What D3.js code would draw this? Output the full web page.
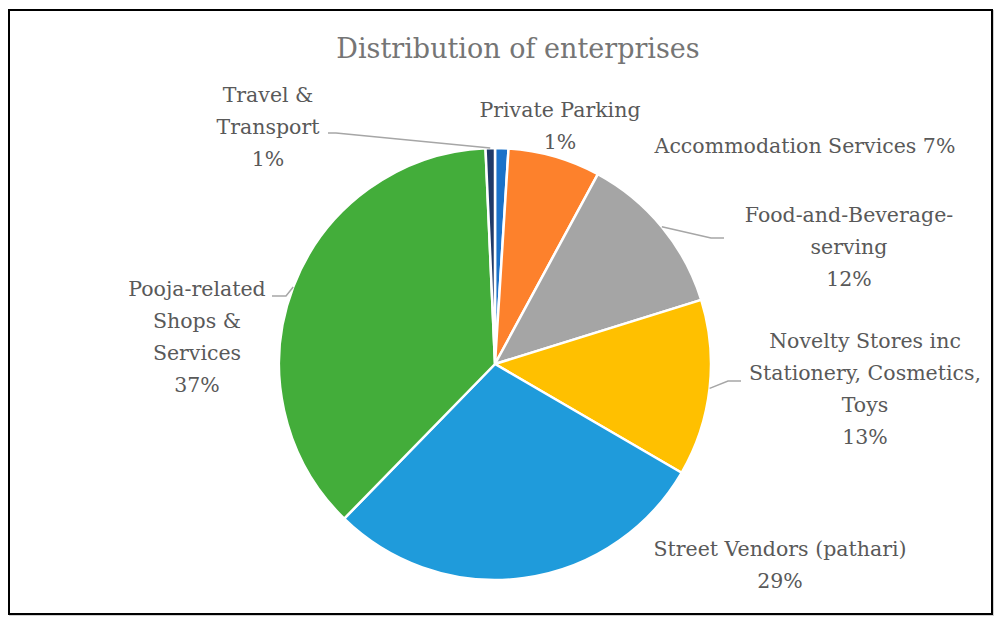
<!DOCTYPE html>
<html>
<head>
<meta charset="utf-8">
<script src="https://cdn.jsdelivr.net/npm/d3@7"></script>
<style>
  body { margin: 0; background: #fff; }
  svg { display: block; }
</style>
</head>
<body>
<svg></svg>
<script>
// data
var categories = [
  "Private Parking",
  "Accommodation Services",
  "Food-and-Beverage-serving",
  "Novelty Stores inc Stationery, Cosmetics, Toys",
  "Street Vendors (pathari)",
  "Pooja-related Shops & Services",
  "Travel & Transport"
];
var shares = [1.0, 6.9, 12.3, 13.2, 28.9, 37.0, 0.7];
var colors = ["#1a72c9", "#fd812c", "#a5a5a5", "#ffc000", "#1f9bdb", "#43ad3a", "#1f3a68"];

// how each label is broken into lines (last line gets the percentage)
var labelLines = [
  ["Private Parking"],
  ["Accommodation Services"],
  ["Food-and-Beverage-", "serving"],
  ["Novelty Stores inc", "Stationery, Cosmetics,", "Toys"],
  ["Street Vendors (pathari)"],
  ["Pooja-related", "Shops &", "Services"],
  ["Travel &", "Transport"]
];
var pctOnSameLine = [false, true, false, false, false, false, false];

// label layout: center x, first baseline y
var labelPos = [
  [560, 117], [805, 153], [849, 222], [865, 348], [780, 556], [197, 296], [268, 102]
];
// leader line bend / end points (null = no leader)
var leaders = [
  null, null,
  [[711, 238], [724, 238]],
  [[728, 381], [741, 381]],
  null,
  [[286, 296], [272, 296]],
  [[336, 133], [328, 133]]
];

var w = 1002, h = 625;
var cx = 495, cy = 364, r = 216;

var svg = d3.select("svg").attr("width", w).attr("height", h);

// frame
svg.append("rect")
  .attr("x", 10).attr("y", 11)
  .attr("width", 983).attr("height", 604)
  .attr("fill", "none").attr("stroke", "#d0d0d0").attr("stroke-width", 2);
svg.append("rect")
  .attr("x", 9).attr("y", 10)
  .attr("width", 983).attr("height", 604)
  .attr("fill", "#fff").attr("stroke", "#000").attr("stroke-width", 2);

// title
svg.append("text")
  .attr("x", 518).attr("y", 58)
  .attr("text-anchor", "middle")
  .attr("font-family", "'DejaVu Serif', serif")
  .attr("font-size", 27)
  .attr("fill", "#757575")
  .text("Distribution of enterprises");

var pie = d3.pie().sort(null).value(function (d) { return d; });
var arcs = pie(shares);
var total = d3.sum(shares);
var fmt = d3.format(".0%");

var arc = d3.arc().innerRadius(0).outerRadius(r);
var edge = d3.arc().innerRadius(r).outerRadius(r);

var g = svg.append("g").attr("transform", "translate(" + cx + "," + cy + ")");

g.selectAll("path.slice")
  .data(arcs)
  .enter()
  .append("path")
  .attr("class", "slice")
  .attr("d", arc)
  .attr("fill", function (d, i) { return colors[i]; })
  .attr("stroke", "#fff")
  .attr("stroke-width", 2.5)
  .attr("stroke-linejoin", "round");

// leader lines, starting at the middle of each slice's outer edge
arcs.forEach(function (d, i) {
  if (!leaders[i]) return;
  var c = edge.centroid(d);
  var pts = [[cx + c[0], cy + c[1]]].concat(leaders[i]);
  svg.append("path")
    .attr("d", d3.line()(pts))
    .attr("fill", "none")
    .attr("stroke", "#a6a6a6")
    .attr("stroke-width", 1.5);
});

// labels
arcs.forEach(function (d, i) {
  var pct = fmt(d.value / total);
  var lines = labelLines[i].slice();
  if (pctOnSameLine[i]) lines[lines.length - 1] += " " + pct;
  else lines.push(pct);
  var t = svg.append("text")
    .attr("x", labelPos[i][0]).attr("y", labelPos[i][1])
    .attr("text-anchor", "middle")
    .attr("font-family", "'DejaVu Serif', serif")
    .attr("font-size", 20.5)
    .attr("fill", "#595959");
  lines.forEach(function (s, k) {
    t.append("tspan")
      .attr("x", labelPos[i][0])
      .attr("dy", k === 0 ? 0 : 32)
      .text(s);
  });
});
</script>
</body>
</html>
